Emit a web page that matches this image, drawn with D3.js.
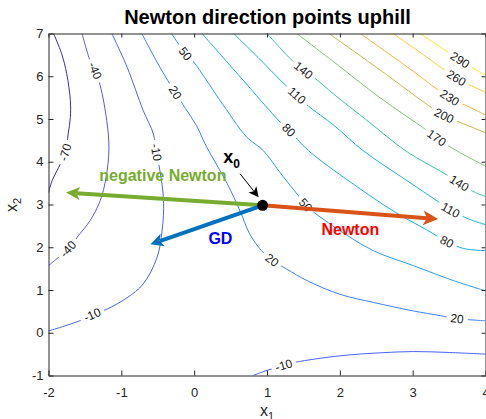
<!DOCTYPE html>
<html>
<head>
<meta charset="utf-8">
<script src="https://cdn.jsdelivr.net/npm/d3@7"></script>
<style>
body { margin: 0; background: #fff; }
text { font-family: "Liberation Sans", Arial, Helvetica, sans-serif; }
</style>
</head>
<body>
<div id="chart"></div>
<script>
// contour levels and the lines, as [x1, x2]
var levels = [-70, -40, -10, 20, 50, 80, 110, 140, 170, 200, 230, 260, 290];

var cM70 = [[-1.93,7],[-1.82,6.53],[-1.75,6.06],[-1.70,5.43],[-1.70,5.04],[-1.73,4.65],[-1.77,4.22],[-1.86,3.87],[-1.95,3.56],[-2.0,3.28]];
var cM40 = [[-1.54,7],[-1.43,6.37],[-1.36,6.13],[-1.29,5.78],[-1.20,4.96],[-1.17,4.3],[-1.21,3.63],[-1.29,3.09],[-1.43,2.62],[-1.59,2.27],[-1.73,1.96],[-1.88,1.74],[-2.0,1.57]];
var cM10a = [[-1.13,7],[-0.92,6.21],[-0.70,5.2],[-0.56,4.65],[-0.52,4.22],[-0.47,3.79],[-0.42,3.09],[-0.44,2.39],[-0.51,1.76],[-0.70,1.14],[-0.92,0.82],[-1.20,0.55],[-1.40,0.42],[-1.54,0.30],[-2.0,0.04]];
var cM10b = [[0.81,-1],[1.0,-0.88],[1.23,-0.76],[1.39,-0.69],[2.0,-0.54],[2.55,-0.47],[3.01,-0.44],[3.47,-0.46],[4.0,-0.5]];
var c20 = [[-0.72,7],[-0.47,6.21],[-0.26,5.62],[-0.12,5.25],[0.03,4.85],[0.17,4.35],[0.45,3.5],[0.63,2.85],[0.76,2.32],[0.92,1.93],[1.07,1.70],[1.27,1.49],[1.55,1.22],[2.0,0.90],[2.46,0.71],[3.01,0.51],[3.38,0.40],[3.61,0.33],[4.0,0.28]];
var c50 = [[-0.31,7],[-0.12,6.53],[-0.01,6.34],[0.35,5.45],[0.72,4.58],[0.95,4.26],[1.2,3.7],[1.43,3.21],[1.53,2.99],[1.62,2.85],[2.0,2.39],[2.46,1.92],[3.01,1.57],[3.56,1.22],[4.0,0.98]];
var c80 = [[0.107,7],[0.64,5.97],[1.18,4.93],[1.30,4.74],[1.57,4.26],[2.15,3.52],[2.76,2.82],[3.2,2.4],[3.47,2.13],[3.70,1.97],[4.0,1.92]];
var c110 = [[0.54,7],[0.9,6.4],[1.23,5.83],[1.41,5.55],[1.57,5.3],[1.92,4.85],[2.32,4.26],[2.85,3.64],[3.40,3.01],[3.52,2.87],[3.77,2.66],[4.0,2.53]];
var c140 = [[1.0,7],[1.32,6.41],[1.50,6.14],[1.69,5.91],[1.91,5.59],[2.40,4.93],[2.90,4.26],[3.49,3.67],[3.64,3.50],[3.86,3.28],[4.0,3.19]];
var c170 = [[1.41,7],[1.92,6.33],[2.55,5.5],[3.19,4.74],[3.33,4.56],[3.59,4.27],[4.0,3.9]];
var c200 = [[1.85,7],[2.55,6.15],[3.28,5.24],[3.43,5.08],[3.74,4.86],[4.0,4.68]];
var c230 = [[2.28,7],[2.9,6.25],[3.51,5.5],[3.83,5.24],[4.0,5.09]];
var c260 = [[2.73,7],[3.15,6.5],[3.6,5.96],[3.93,5.68],[4.0,5.62]];
var c290 = [[3.10,7],[3.65,6.38],[3.88,6.14],[4.0,6.03]];

// inline contour labels
var labelLevel = [-70,-40,-40,-10,-10,-10,20,20,20,50,50,80,80,110,110,140,140,170,200,230,260,290];
var labelX1 = [-1.77,-1.36,-1.73,-0.52,-1.40,1.23,-0.26,1.07,3.61,-0.12,1.53,1.30,3.47,1.41,3.52,1.50,3.64,3.33,3.43,3.51,3.60,3.65];
var labelX2 = [4.22,6.13,1.96,4.22,0.42,-0.76,5.62,1.70,0.33,6.53,2.99,4.74,2.13,5.55,2.87,6.14,3.50,4.56,5.08,5.50,5.96,6.38];

// the point and the three directions
var x0pt = [0.94, 2.98];
var newtonTip = [3.35, 2.66];
var negNewtonTip = [-1.76, 3.28];
var gdTip = [-0.60, 2.07];
var pointerFrom = [0.63, 3.72], pointerTo = [0.885, 3.17];

var xTicks = [-2, -1, 0, 1, 2, 3, 4];
var yTicks = [-1, 0, 1, 2, 3, 4, 5, 6, 7];

var contours = [
  {level: -70, pts: cM70}, {level: -40, pts: cM40},
  {level: -10, pts: cM10a}, {level: -10, pts: cM10b},
  {level: 20, pts: c20}, {level: 50, pts: c50}, {level: 80, pts: c80},
  {level: 110, pts: c110}, {level: 140, pts: c140}, {level: 170, pts: c170},
  {level: 200, pts: c200}, {level: 230, pts: c230}, {level: 260, pts: c260},
  {level: 290, pts: c290}
];

// parula-like line colours, one per level
var levelColors = ["#3a2d9e","#5b55e0","#4a63f0","#3f80f3","#2d9be6","#1aacdc","#16bac8",
                   "#36c3a6","#7ec66f","#c2bc4a","#f5b23f","#f9cf33","#f2f01c"];
function colorOf(lv) { return levelColors[levels.indexOf(lv)]; }

var width = 486, height = 419;
var x = d3.scaleLinear().domain([-2, 4]).range([48.5, 485.5]);
var y = d3.scaleLinear().domain([-1, 7]).range([375.5, 33.5]);

var svg = d3.select("#chart").append("svg")
  .attr("width", width)
  .attr("height", height);

svg.append("defs").append("clipPath").attr("id", "plotclip")
  .append("rect")
  .attr("x", x(-2)).attr("y", y(7))
  .attr("width", x(4) - x(-2)).attr("height", y(-1) - y(7));

var plot = svg.append("g").attr("clip-path", "url(#plotclip)");

var line = d3.line()
  .x(d => x(d[0]))
  .y(d => y(d[1]))
  .curve(d3.curveCatmullRom.alpha(0.5));

contours.forEach(function(c) {
  plot.append("path")
    .attr("d", line(c.pts))
    .attr("fill", "none")
    .attr("stroke", colorOf(c.level))
    .attr("stroke-width", 1);
});

// angle of the contour at a label, kept upright like clabel does
function labelAngle(lv, px, py) {
  var best = null, bd = Infinity;
  contours.filter(c => c.level === lv).forEach(function(c) {
    c.pts.forEach(function(p, j) {
      var d = Math.hypot(x(p[0]) - px, y(p[1]) - py);
      if (d < bd) { bd = d; best = {pts: c.pts, j: j}; }
    });
  });
  var p = best.pts,
      a = p[Math.max(best.j - 1, 0)],
      b = p[Math.min(best.j + 1, p.length - 1)];
  var ang = Math.atan2(y(b[1]) - y(a[1]), x(b[0]) - x(a[0])) * 180 / Math.PI;
  if (ang > 90) ang -= 180;
  if (ang <= -90) ang += 180;
  return ang;
}

labelLevel.forEach(function(lv, i) {
  var px = x(labelX1[i]), py = y(labelX2[i]);
  var g = plot.append("g")
    .attr("transform", `translate(${px},${py}) rotate(${labelAngle(lv, px, py)})`);
  var r = g.append("rect").attr("fill", "#fff");
  var t = g.append("text")
    .attr("text-anchor", "middle")
    .attr("dy", "0.35em")
    .attr("font-size", 12)
    .attr("fill", "#1a1a1a")
    .text(String(lv));
  var w = t.node().getComputedTextLength();
  r.attr("x", -w / 2 - 4).attr("y", -5).attr("width", w + 8).attr("height", 10);
});

// arrow with a swept-back head
function arrow(from, to, color, w, hl, hw) {
  var xa = x(from[0]), ya = y(from[1]), xb = x(to[0]), yb = y(to[1]);
  var dx = xb - xa, dy = yb - ya, L = Math.hypot(dx, dy);
  var ux = dx / L, uy = dy / L, nx = -uy, ny = ux;
  var bx = xb - ux * hl, by = yb - uy * hl;
  var notch = hl * 0.25;
  svg.append("line")
    .attr("x1", xa).attr("y1", ya)
    .attr("x2", bx + ux * notch).attr("y2", by + uy * notch)
    .attr("stroke", color).attr("stroke-width", w);
  var pts = [[xb, yb], [bx + nx * hw, by + ny * hw], [bx + ux * notch, by + uy * notch], [bx - nx * hw, by - ny * hw]];
  svg.append("path")
    .attr("d", "M" + pts.map(p => p.join(",")).join("L") + "Z")
    .attr("fill", color);
}

arrow(x0pt, negNewtonTip, "#77ac30", 4, 14, 6.5);
arrow(x0pt, gdTip, "#0072bd", 4, 13, 6.5);
arrow(x0pt, newtonTip, "#d95319", 4, 15, 7.5);
arrow(pointerFrom, pointerTo, "#000", 1, 10, 5);

svg.append("circle")
  .attr("cx", x(x0pt[0])).attr("cy", y(x0pt[1]))
  .attr("r", 5.5).attr("fill", "#000");

// annotation texts
var x0lab = svg.append("text")
  .attr("x", x(0.40)).attr("y", y(3.98))
  .attr("font-size", 18).attr("font-weight", "bold").attr("fill", "#000")
  .text("x");
x0lab.append("tspan").attr("dy", 5).attr("font-size", 12).text("0");

svg.append("text")
  .attr("x", x(-0.43)).attr("y", y(3.557))
  .attr("text-anchor", "middle").attr("font-size", 16).attr("font-weight", "bold")
  .attr("fill", "#77ac30")
  .text("negative Newton");

svg.append("text")
  .attr("x", x(0.36)).attr("y", y(2.082))
  .attr("text-anchor", "middle").attr("font-size", 16).attr("font-weight", "bold")
  .attr("fill", "#0000ff")
  .text("GD");

svg.append("text")
  .attr("x", x(2.144)).attr("y", y(2.293))
  .attr("text-anchor", "middle").attr("font-size", 16).attr("font-weight", "bold")
  .attr("fill", "#ff0000")
  .text("Newton");

// axes: box with ticks inside on all four sides
var axisColor = "#262626";
var xAxis = d3.axisBottom(x).tickValues(xTicks).tickSizeInner(-5).tickSizeOuter(0)
  .tickPadding(12).tickFormat(d => String(d));
var yAxis = d3.axisLeft(y).tickValues(yTicks).tickSizeInner(-5).tickSizeOuter(0)
  .tickPadding(5).tickFormat(d => String(d));
var xTop = d3.axisTop(x).tickValues(xTicks).tickSizeInner(-4).tickSizeOuter(0).tickFormat(() => "");
var yRight = d3.axisRight(y).tickValues(yTicks).tickSizeInner(-4).tickSizeOuter(0).tickFormat(() => "");

function styleAxis(g) {
  g.attr("color", axisColor)
   .attr("font-size", 13)
   .attr("font-family", "'Liberation Sans', Arial, Helvetica, sans-serif");
  g.selectAll("path, line").attr("stroke-width", 1);
}

svg.append("g").attr("transform", `translate(0,${y(-1)})`).call(xAxis).call(styleAxis);
svg.append("g").attr("transform", `translate(${x(-2)},0)`).call(yAxis).call(styleAxis);
svg.append("g").attr("transform", `translate(0,${y(7)})`).call(xTop).call(styleAxis);
svg.append("g").attr("transform", `translate(${x(4)},0)`).call(yRight).call(styleAxis);

// title and axis labels
svg.append("text")
  .attr("x", 267.5).attr("y", 24)
  .attr("text-anchor", "middle").attr("font-size", 20).attr("font-weight", "bold")
  .attr("fill", "#000")
  .text("Newton direction points uphill");

var xl = svg.append("text")
  .attr("x", 267).attr("y", 416)
  .attr("text-anchor", "middle").attr("font-size", 16).attr("fill", axisColor)
  .text("x");
xl.append("tspan").attr("dy", 4).attr("font-size", 11).text("1");

var yl = svg.append("text")
  .attr("transform", "translate(16.5,212) rotate(-90)")
  .attr("font-size", 16).attr("fill", axisColor)
  .text("x");
yl.append("tspan").attr("dy", 4).attr("font-size", 11).text("2");
</script>
</body>
</html>
